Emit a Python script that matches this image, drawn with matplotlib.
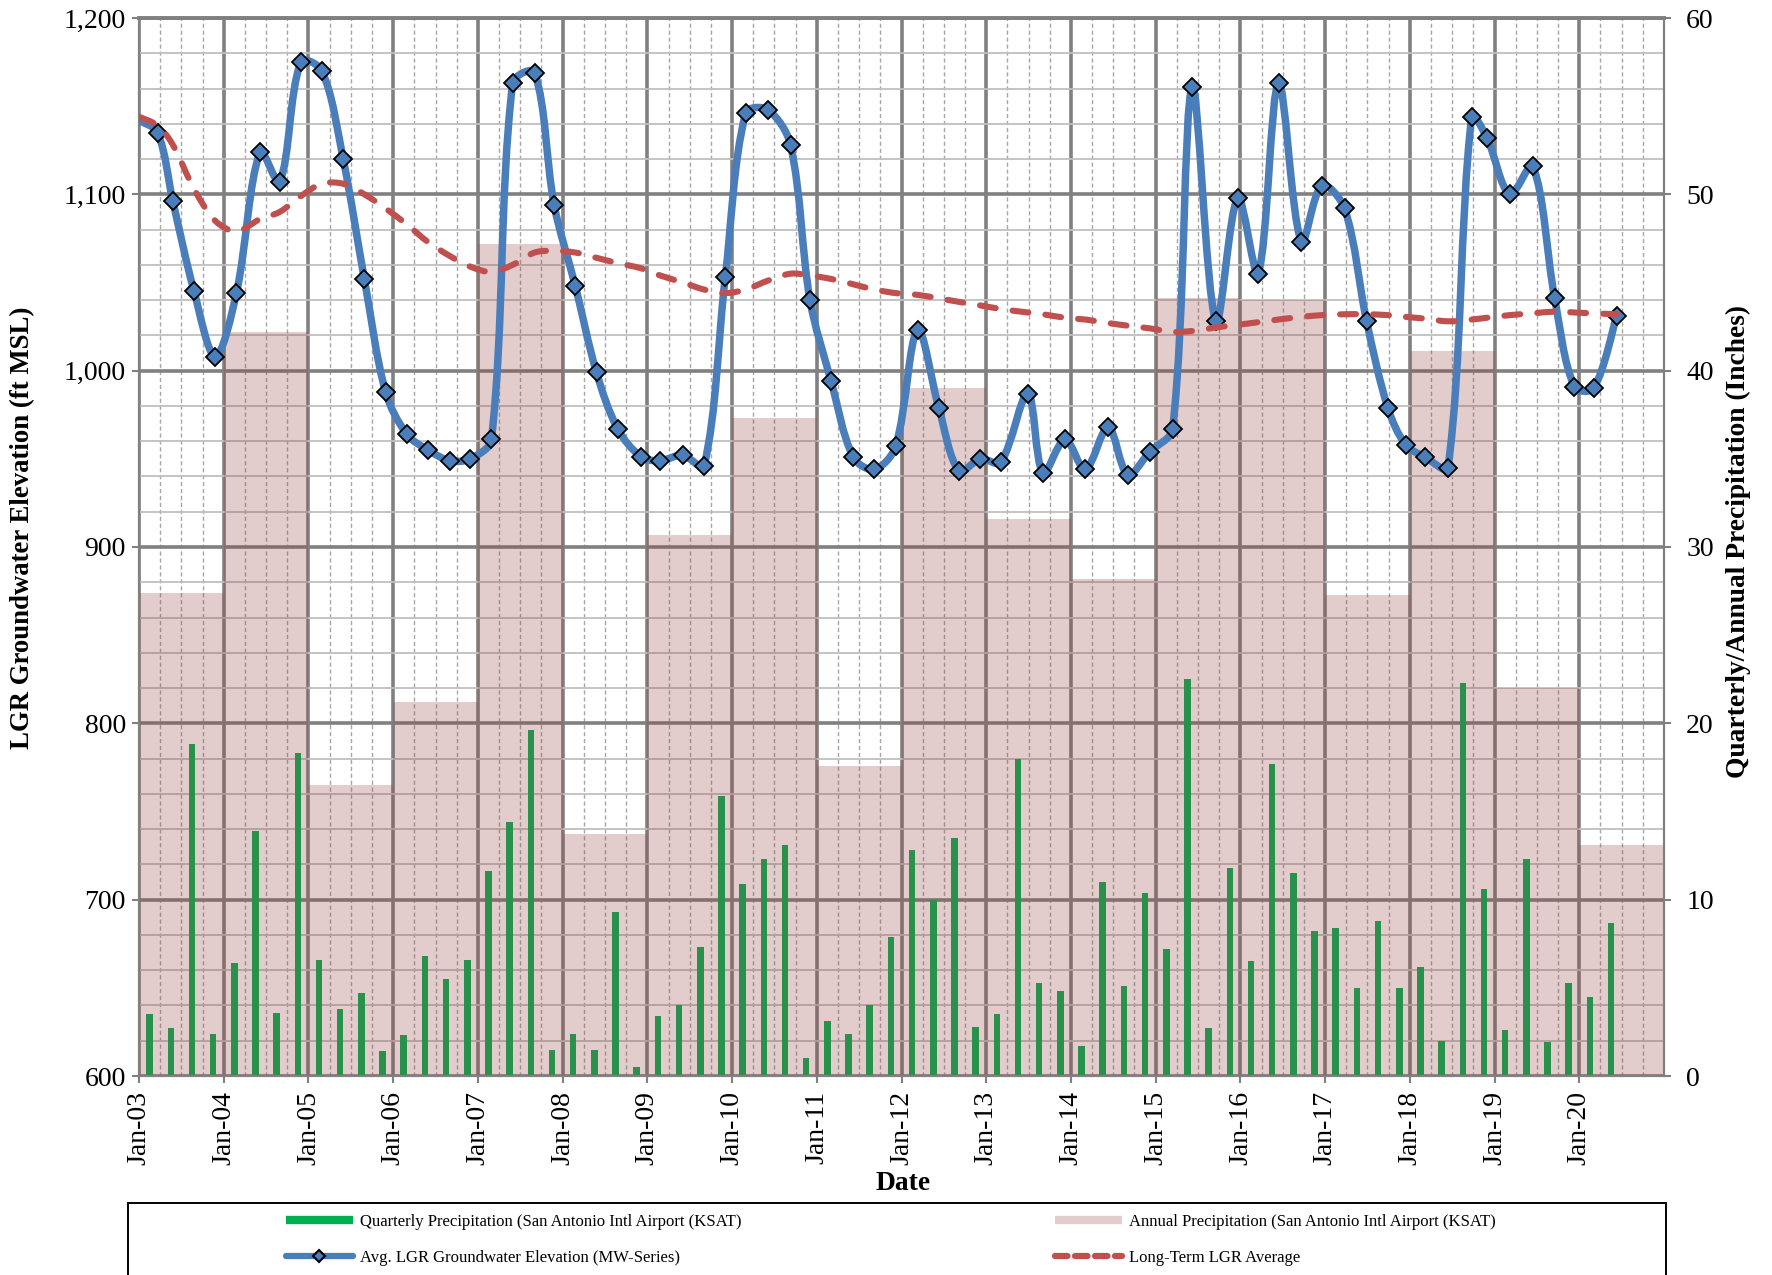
import numpy as np
import matplotlib
matplotlib.use('Agg')
import matplotlib.pyplot as plt
from matplotlib.path import Path
from matplotlib.patches import PathPatch, Rectangle
from matplotlib.lines import Line2D
from matplotlib.ticker import MultipleLocator, FuncFormatter

plt.rcParams['font.family'] = ['Liberation Serif', 'DejaVu Serif']

# sampling dates (decimal years) of the groundwater series
elev_dates = [2003.0, 2003.22, 2003.40, 2003.65, 2003.90, 2004.15, 2004.43, 2004.66, 2004.91,
              2005.16, 2005.41, 2005.66, 2005.91, 2006.16, 2006.41, 2006.67, 2006.91, 2007.16,
              2007.41, 2007.67, 2007.90, 2008.15, 2008.40, 2008.65, 2008.93, 2009.15, 2009.42,
              2009.67, 2009.92, 2010.16, 2010.42, 2010.69, 2010.92, 2011.17, 2011.43, 2011.68,
              2011.93, 2012.19, 2012.44, 2012.68, 2012.93, 2013.17, 2013.49, 2013.67, 2013.93,
              2014.17, 2014.44, 2014.67, 2014.93, 2015.20, 2015.43, 2015.71, 2015.97, 2016.21,
              2016.45, 2016.72, 2016.96, 2017.23, 2017.49, 2017.74, 2017.95, 2018.18, 2018.45,
              2018.73, 2018.91, 2019.18, 2019.45, 2019.71, 2019.94, 2020.17, 2020.44]

# avg LGR groundwater elevation (ft MSL)
avg_elev = [1142, 1135, 1096, 1045, 1008, 1044, 1124, 1107, 1175, 1170, 1120, 1052, 988, 964,
            955, 949, 950, 961, 1163, 1169, 1094, 1048, 999, 967, 951, 949, 952, 946, 1053,
            1146, 1148, 1128, 1040, 994, 951, 944, 957, 1023, 979, 943, 950, 948, 987, 942,
            961, 944, 968, 941, 954, 967, 1161, 1028, 1098, 1055, 1163, 1073, 1105, 1092,
            1028, 979, 958, 951, 945, 1144, 1132, 1100, 1116, 1041, 991, 990, 1031]

# long-term LGR average (ft MSL)
lt_avg = [1144, 1139, 1128, 1103, 1085, 1079, 1086, 1090, 1099, 1106, 1106, 1100, 1092, 1083,
          1073, 1065, 1059, 1056, 1060, 1067, 1068, 1067, 1064, 1061, 1058, 1054, 1050, 1046,
          1044, 1046, 1051, 1055, 1054, 1052, 1049, 1046, 1044, 1043, 1041, 1039, 1037, 1035,
          1033, 1032, 1030, 1029, 1027, 1025.5, 1024, 1022, 1022.5, 1024.5, 1026, 1027.5,
          1029, 1030.5, 1031.5, 1032, 1032, 1031.5, 1030.5, 1029.5, 1028, 1029, 1030, 1031.5,
          1032.5, 1033.5, 1033, 1032.5, 1032]

# quarterly precipitation (inches), Q1 2003 .. Q2 2020
quarterly_precip = [3.5, 2.7, 18.8, 2.4,
                    6.4, 13.9, 3.6, 18.3,
                    6.6, 3.8, 4.7, 1.4,
                    2.3, 6.8, 5.5, 6.6,
                    11.6, 14.4, 19.6, 1.5,
                    2.4, 1.5, 9.3, 0.5,
                    3.4, 4.0, 7.3, 15.9,
                    10.9, 12.3, 13.1, 1.0,
                    3.1, 2.4, 4.0, 7.9,
                    12.8, 10.0, 13.5, 2.8,
                    3.5, 18.0, 5.3, 4.8,
                    1.7, 11.0, 5.1, 10.4,
                    7.2, 22.5, 2.7, 11.8,
                    6.5, 17.7, 11.5, 8.2,
                    8.4, 5.0, 8.8, 5.0,
                    6.2, 2.0, 22.3, 10.6,
                    2.6, 12.3, 1.9, 5.3,
                    4.5, 8.7]

years = list(range(2003, 2021))
annual_precip = [27.4, 42.2, 16.5, 21.2, 47.2, 13.7, 30.7, 37.3, 17.6, 39.0, 31.6, 28.2,
                 44.1, 44.0, 27.3, 41.1, 22.0, 13.1]

year_labels = ['Jan-%02d' % (y % 100) for y in years]

blue = '#4A7EBB'
red = '#C0504D'
green = '#00B050'
annual_col = (148/255, 67/255, 67/255, 0.27)


def smooth_path(ax, x, y):
    # excel-like smoothed line: cubic bezier, tangents split by segment length on screen
    pts = np.column_stack([x, y]).astype(float)
    scr = ax.transData.transform(pts)
    n = len(pts)
    verts = [pts[0]]
    codes = [Path.MOVETO]
    for i in range(n - 1):
        i0 = max(i - 1, 0)
        i3 = min(i + 2, n - 1)
        d01 = np.hypot(*(scr[i] - scr[i0]))
        d12 = np.hypot(*(scr[i + 1] - scr[i]))
        d23 = np.hypot(*(scr[i3] - scr[i + 1]))
        w1 = d12 / (d01 + d12) if d01 > 0 else 0.5
        w2 = d12 / (d12 + d23) if d23 > 0 else 0.5
        c1 = pts[i] + (pts[i + 1] - pts[i0]) * w1 / 3.0
        c2 = pts[i + 1] - (pts[i3] - pts[i]) * w2 / 3.0
        verts += [c1, c2, pts[i + 1]]
        codes += [Path.CURVE4] * 3
    return Path(verts, codes)


fig = plt.figure(figsize=(17.72, 12.75), dpi=100)
W, H = 1772.0, 1275.0
left, right, top, bottom = 139, 1664, 18, 1076
ax_p = fig.add_axes([left / W, 1 - bottom / H, (right - left) / W, (bottom - top) / H])
ax_e = ax_p.twinx()

# precipitation on the lower axes (right scale), grid drawn here
ax_p.set_axisbelow(True)
q_pos = [years[0] + 0.125 + 0.25 * i for i in range(len(quarterly_precip))]
ax_p.bar(q_pos, quarterly_precip, width=0.077, color=green, zorder=1)
ax_p.bar(years, annual_precip, width=1.0, align='edge', color=annual_col, zorder=2)

ax_p.set_xlim(2003, 2021)
ax_p.set_ylim(0, 60)
ax_p.set_xticks(years)
ax_p.set_xticklabels(year_labels, rotation=90)
ax_p.xaxis.set_minor_locator(MultipleLocator(0.25))
ax_p.yaxis.set_major_locator(MultipleLocator(10))
ax_p.yaxis.set_minor_locator(MultipleLocator(2))
ax_p.grid(which='major', axis='both', color='#808080', lw=2.6)
ax_p.grid(which='minor', axis='y', color='#BFBFBF', lw=1.3)
ax_p.grid(which='minor', axis='x', color='#A6A6A6', lw=1.0, linestyle=(0, (3, 2)))

ax_p.yaxis.tick_right()
ax_e.yaxis.tick_left()

# groundwater series on the upper axes (left scale)
ax_e.set_xlim(2003, 2021)
ax_e.set_ylim(600, 1200)
ax_e.yaxis.set_major_locator(MultipleLocator(100))
ax_e.yaxis.set_major_formatter(FuncFormatter(lambda v, p: '{:,.0f}'.format(v)))
ax_e.add_patch(PathPatch(smooth_path(ax_e, elev_dates, avg_elev), facecolor='none',
                         edgecolor=blue, lw=5.4, capstyle='round', joinstyle='round', zorder=3))
ax_e.plot(elev_dates, avg_elev, linestyle='none', marker='D', ms=9.5, mfc=blue, mec='black',
          mew=1.3, markevery=list(range(1, len(elev_dates))), zorder=4)
ax_e.add_patch(PathPatch(smooth_path(ax_e, elev_dates, lt_avg), facecolor='none', edgecolor=red,
                         lw=4.4, linestyle=(0, (2.6, 2.8)), capstyle='round', zorder=5))

for ax in (ax_p, ax_e):
    for s in ax.spines.values():
        s.set_color('#808080')
        s.set_linewidth(1.5)
    ax.spines['top'].set_linewidth(2.6)
    ax.tick_params(which='major', length=5, width=1.5, color='#808080', labelsize=20, direction='out')
    ax.tick_params(which='minor', length=0)
ax_p.tick_params(axis='y', pad=11)
ax_e.tick_params(axis='y', pad=4.5)
ax_p.tick_params(axis='x', pad=6)

fig.text(23 / W, 1 - 528 / H, 'LGR Groundwater Elevation (ft MSL)', rotation=90, fontsize=19.3,
         fontweight='bold', ha='center', va='center')
fig.text(1738 / W, 1 - 541 / H, 'Quarterly/Annual Precipitation (Inches)', rotation=90,
         fontsize=19.8, fontweight='bold', ha='center', va='center')
fig.text(903 / W, 1 - 1183 / H, 'Date', fontsize=19.8, fontweight='bold', ha='center', va='center')

# legend box runs off the bottom of the figure
fig.add_artist(Rectangle((128 / W, -0.05), (1666 - 128) / W, 0.05 + (1 - 1203 / H),
                         transform=fig.transFigure, fill=False, ec='black', lw=1.4, clip_on=False))

h_q = Line2D([], [], color=green, lw=6, solid_capstyle='butt')
h_a = Line2D([], [], color=annual_col, lw=6, solid_capstyle='butt')
h_e = Line2D([], [], color=blue, lw=4.5, solid_capstyle='round', marker='D', ms=6, mfc=blue,
             mec='black', mew=1.5)
h_l = Line2D([], [], color=red, lw=4.5, dashes=(2.0, 1.2), dash_capstyle='round')

leg_kw = dict(frameon=False, fontsize=12, borderpad=0, borderaxespad=0, handlelength=4.0,
              handletextpad=0.45, labelspacing=1.2, loc='upper left')
leg1 = fig.legend([h_q, h_e], ['Quarterly Precipitation (San Antonio Intl Airport (KSAT)',
                               'Avg. LGR Groundwater Elevation (MW-Series)'],
                  bbox_to_anchor=(286 / W, 1 - 1214 / H), **leg_kw)
leg2 = fig.legend([h_a, h_l], ['Annual Precipitation (San Antonio Intl Airport (KSAT)',
                               'Long-Term LGR Average'],
                  bbox_to_anchor=(1055 / W, 1 - 1214 / H), **leg_kw)

fig.savefig('out.png', dpi=100)
